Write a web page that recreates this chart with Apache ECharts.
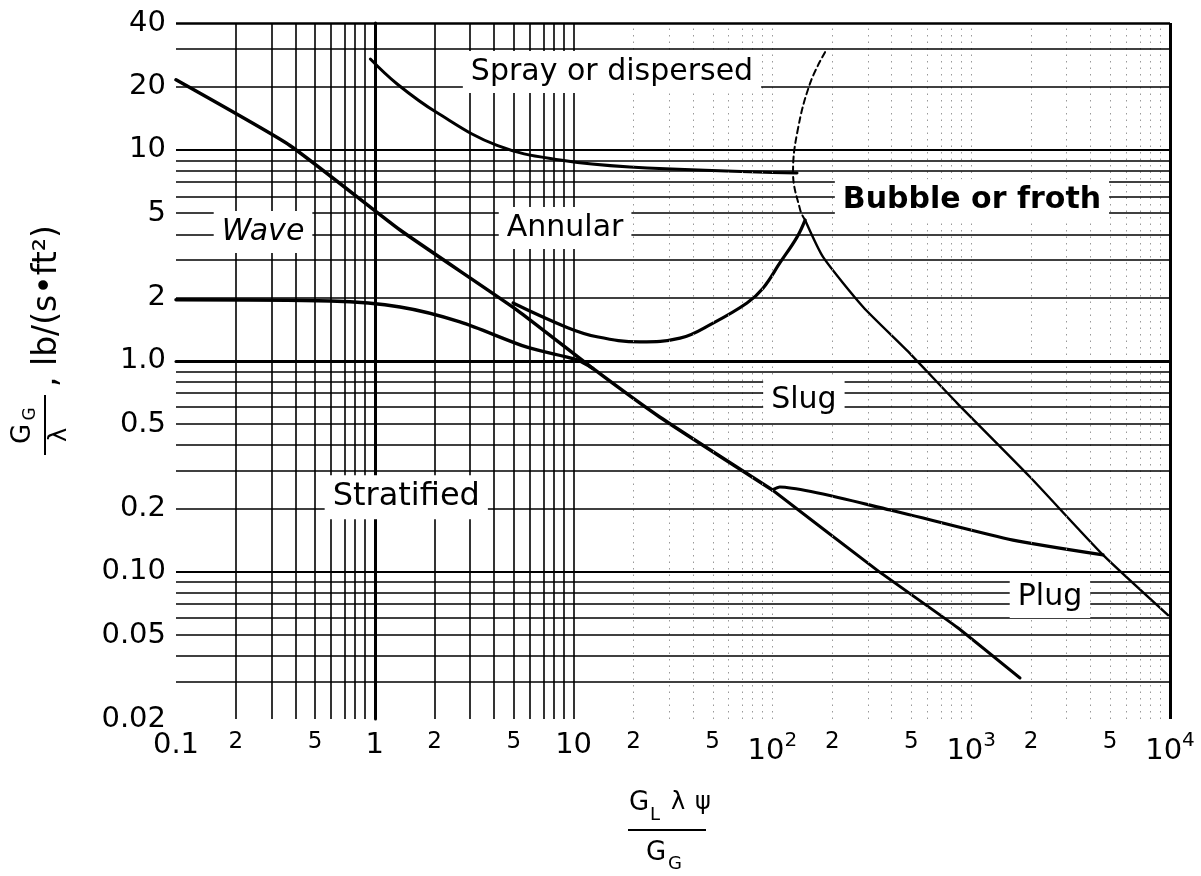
<!DOCTYPE html>
<html><head><meta charset="utf-8">
<script src="https://cdn.jsdelivr.net/npm/echarts@6/dist/echarts.min.js"></script>
<style>html,body{margin:0;padding:0;background:#fff}#c{width:1201px;height:876px}</style>
</head><body><div id="c"></div>
<script>
// ---- tick labels ----
const xTickValues = [0.1,0.2,0.5,1,2,5,10,20,50,100,200,500,1000,2000,5000,10000];
const xTickLabels = ['0.1','2','5','1','2','5','10','2','5','10^2','2','5','10^3','2','5','10^4'];
const yTickValues = [0.02,0.05,0.1,0.2,0.5,1,2,5,10,20,40];
const yTickLabels = ['0.02','0.05','0.10','0.2','0.5','1.0','2','5','10','20','40'];
const xMin = 0.1, xMax = 10000, yMin = 0.02, yMax = 40;

// ---- boundary curves [x, y] ----
const waveAnnular     = [[0.1,21.5],[0.374,10.5],[1.34,4.17],[5.19,1.74],[12.5,0.92],[27.2,0.54],[100,0.244]];
const stratifiedWave  = [[0.1,1.95],[0.6,1.92],[1.34,1.80],[2.68,1.53],[5.83,1.16],[10.4,1.01],[12.5,0.92]];
const annularSlug     = [[4.96,1.88],[9.27,1.44],[13.1,1.30],[21.6,1.23],[34.3,1.28],[50.3,1.51],[74.5,1.88],[89.7,2.21],[109,2.91],[133,3.86],[146,4.65]];
const sprayAnnular    = [[0.95,27.0],[1.3,20.5],[2.06,15.0],[4.12,10.5],[8.55,8.95],[19.2,8.30],[133,7.77]];
const sprayBubble     = [[184,29.1],[155,20.8],[134,12.4],[127,7.85],[138,5.19],[146,4.65]];
const bubbleSlug      = [[146,4.65],[180,3.10],[286,1.80],[475,1.12],[849,0.63],[1977,0.281],[4603,0.120],[9772,0.0622]];
const slugPlug        = [[100,0.244],[109,0.252],[391,0.196],[1623,0.141],[4603,0.120]];
const stratifiedPlug  = [[100,0.244],[336,0.1016],[849,0.0545],[1760,0.0313]];

// ---- region names and anchor values ----
const regionNames = ['Spray or dispersed','Bubble or froth','Wave','Annular','Slug','Stratified','Plug'];
const regionX     = [15.6, 1009, 0.274, 9.06, 144, 1.44, 2490];
const regionY     = [23.4, 5.78, 4.08, 4.26, 0.652, 0.2256, 0.0757];

const L = Math.log10;
const FONT = 'DejaVu Sans';
const tr = arr => arr.map(p => [L(p[0]), L(p[1])]);

// grid lines (log grid)
const mults = [1,2,3,4,5,6,7,8,9];
const xGrid = [0.1,1,10,100,1000].flatMap(d => mults.map(m => m*d)).concat([10000]);
const yGrid = [0.01,0.1,1,10].flatMap(d => mults.map(m => m*d)).filter(v => v > yMin*1.001 && v < yMax*1.001);

const markData = [];
xGrid.forEach(v => {
  if (Math.abs(v - xMin) < 1e-9) return;
  let ls;
  if (Math.abs(v - xMax) < 1e-6) ls = {color:'#000', width:3, type:'solid'};
  else if (v <= 10.0001) ls = {color:'#000', width:1.6, type:'solid'};
  else ls = {color:'#999', width:1, type:[1.5,5]};
  markData.push({xAxis: L(v), lineStyle: ls});
});
yGrid.forEach(v => {
  const major = [0.1,1,10].some(d => Math.abs(v-d)/d < 1e-6);
  const top = Math.abs(v - yMax) < 1e-6;
  markData.push({yAxis: L(v), lineStyle: {color:'#000', width: top ? 2.5 : (major ? 2.2 : 1.6), type:'solid'}});
});

function xFmt(val) {
  let best = 0, bd = 1e9;
  xTickValues.forEach((t,i) => { const d = Math.abs(L(t) - val); if (d < bd) { bd = d; best = i; } });
  const s = xTickLabels[best];
  if (s.indexOf('^') >= 0) { const p = s.split('^'); return '{m|' + p[0] + '}{sup|' + p[1] + '}'; }
  if (s === '2' || s === '5') return '{s|' + s + '}';
  return '{m|' + s + '}';
}
function yFmt(val) {
  let best = 0, bd = 1e9;
  yTickValues.forEach((t,i) => { const d = Math.abs(L(t) - val); if (d < bd) { bd = d; best = i; } });
  return yTickLabels[best];
}

const curveStyles = [
  {data: waveAnnular, w: 3.5, smooth: 0.15},
  {data: stratifiedWave, w: 3.5, smooth: 0.3},
  {data: annularSlug, w: 3.2, smooth: 0.4},
  {data: sprayAnnular, w: 3.0, smooth: 0.4},
  {data: sprayBubble, w: 2.0, smooth: 0.4, dash: [6,4]},
  {data: bubbleSlug, w: 2.4, smooth: 0.2},
  {data: slugPlug, w: 3.2, smooth: 0.2},
  {data: stratifiedPlug, w: 3.0, smooth: 0.1}
];

const series = [{
  type: 'line', data: [], silent: true, z: 1,
  markLine: {silent: true, symbol: ['none','none'], label: {show:false}, animation: false, data: markData}
}];
curveStyles.forEach(c => series.push({
  type: 'line', data: tr(c.data), showSymbol: false, smooth: c.smooth, z: 3, silent: true,
  lineStyle: {color:'#000', width: c.w, type: c.dash ? c.dash : 'solid', cap:'round', join:'round'}
}));
series.push({
  type: 'scatter', symbolSize: 0, z: 5, silent: true,
  itemStyle: {opacity: 1},
  data: regionNames.map((n,i) => ({
    value: [L(regionX[i]), L(regionY[i])],
    label: {
      show: true, position: 'inside', formatter: n, opacity: 1,
      fontFamily: FONT, fontSize: n === 'Stratified' ? 32 : 30, color: '#000',
      fontStyle: n === 'Wave' ? 'italic' : 'normal',
      fontWeight: n === 'Bubble or froth' ? 'bold' : 'normal',
      backgroundColor: '#fff', padding: [6, 8]
    }
  }))
});

const chart = echarts.init(document.getElementById('c'), null, {renderer: 'canvas'});
chart.setOption({
  animation: false,
  backgroundColor: '#fff',
  grid: {left: 176, right: 31, top: 23, bottom: 157, containLabel: false},
  xAxis: {
    type: 'value', min: L(xMin), max: L(xMax),
    axisLine: {show: true, lineStyle: {color:'#000', width: 3}},
    axisTick: {show: false},
    splitLine: {show: false},
    axisLabel: {
      customValues: xTickValues.map(L), formatter: xFmt, margin: 12, color:'#000',
      rich: {
        m: {fontFamily: FONT, fontSize: 29, color:'#000', verticalAlign:'bottom'},
        sup: {fontFamily: FONT, fontSize: 20, color:'#000', verticalAlign:'bottom', padding:[0,0,15,0]},
        s: {fontFamily: FONT, fontSize: 23, color:'#000'}
      }
    }
  },
  yAxis: {
    type: 'value', min: L(yMin), max: L(yMax),
    axisLine: {show: true, lineStyle: {color:'#000', width: 3}},
    axisTick: {show: false},
    splitLine: {show: false},
    axisLabel: {
      customValues: yTickValues.map(L), formatter: yFmt, margin: 10,
      fontFamily: FONT, fontSize: 29, color: '#000'
    }
  },
  series: series,
  graphic: [
    {
      type: 'group', x: 45, y: 457, rotation: Math.PI / 2,
      children: [
        {type:'text', x: 23, y: -22, style:{text:'G', fontFamily: FONT, fontSize: 26, fill:'#000', align:'center', verticalAlign:'middle'}},
        {type:'text', x: 43, y: -14, style:{text:'G', fontFamily: FONT, fontSize: 17, fill:'#000', align:'center', verticalAlign:'middle'}},
        {type:'line', shape:{x1: 2, y1: 0, x2: 62, y2: 0}, style:{stroke:'#000', lineWidth: 2}},
        {type:'text', x: 22, y: 15, style:{text:'λ', fontFamily: FONT, fontSize: 24, fill:'#000', align:'center', verticalAlign:'middle'}},
        {type:'text', x: 70, y: 2, style:{text:', lb/(s•ft²)', fontFamily: FONT, fontSize: 33, fill:'#000', align:'left', verticalAlign:'middle'}}
      ]
    },
    {type:'text', x: 639, y: 803, style:{text:'G', fontFamily: FONT, fontSize: 26, fill:'#000', align:'center', verticalAlign:'middle'}},
    {type:'text', x: 655, y: 815, style:{text:'L', fontFamily: FONT, fontSize: 18, fill:'#000', align:'center', verticalAlign:'middle'}},
    {type:'text', x: 678, y: 803, style:{text:'λ', fontFamily: FONT, fontSize: 24, fill:'#000', align:'center', verticalAlign:'middle'}},
    {type:'text', x: 703, y: 803, style:{text:'ψ', fontFamily: FONT, fontSize: 24, fill:'#000', align:'center', verticalAlign:'middle'}},
    {type:'line', shape:{x1: 628, y1: 830, x2: 706, y2: 830}, style:{stroke:'#000', lineWidth: 2}},
    {type:'text', x: 656, y: 853, style:{text:'G', fontFamily: FONT, fontSize: 26, fill:'#000', align:'center', verticalAlign:'middle'}},
    {type:'text', x: 675, y: 864, style:{text:'G', fontFamily: FONT, fontSize: 18, fill:'#000', align:'center', verticalAlign:'middle'}}
  ]
});
</script></body></html>
